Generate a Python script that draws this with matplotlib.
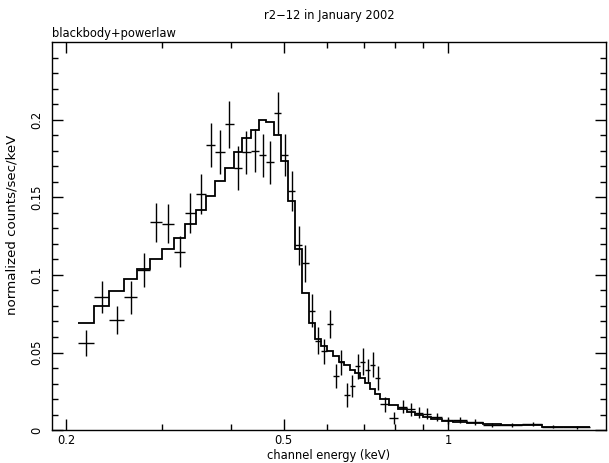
import matplotlib
matplotlib.use('Agg')
import matplotlib.pyplot as plt
from matplotlib.ticker import FixedLocator, FixedFormatter
import numpy as np

# bin edges (keV), single 15 eV channels up to 0.75 keV, grouped above
edges = [0.210, 0.225, 0.240, 0.255, 0.270, 0.285, 0.300, 0.315, 0.330, 0.345,
         0.360, 0.375, 0.390, 0.405, 0.420, 0.435, 0.450, 0.465, 0.480, 0.495,
         0.510, 0.525, 0.540, 0.555, 0.570, 0.585, 0.600, 0.615, 0.630, 0.645,
         0.660, 0.675, 0.690, 0.705, 0.720, 0.735, 0.750, 0.780, 0.810, 0.840,
         0.870, 0.900, 0.930, 0.975, 1.020, 1.080, 1.155, 1.245, 1.365, 1.485,
         1.620, 1.815]

# observed rate and 1-sigma errors (counts/sec/keV)
rate = [0.056, 0.086, 0.071, 0.0855, 0.103, 0.134, 0.133, 0.115, 0.140, 0.152,
        0.184, 0.179, 0.197, 0.169, 0.179, 0.180, 0.177, 0.1726, 0.2045, 0.177,
        0.154, 0.119, 0.1075, 0.0769, 0.0577, 0.0508, 0.0684, 0.0346, 0.0438, 0.0224,
        0.0282, 0.041, 0.0442, 0.0385, 0.0421, 0.0335, 0.0167, 0.0080, 0.0152, 0.0133,
        0.0111, 0.0107, 0.0085, 0.0064, 0.0064, 0.0053, 0.0034, 0.0032, 0.0038, 0.0021,
        0.0017]
rate_err = [0.0083, 0.0103, 0.009, 0.0104, 0.011, 0.0125, 0.0125, 0.010, 0.0128, 0.013,
            0.0142, 0.0142, 0.015, 0.014, 0.014, 0.014, 0.014, 0.014, 0.0135, 0.0135,
            0.013, 0.0123, 0.0118, 0.0107, 0.0087, 0.008, 0.0088, 0.0077, 0.008, 0.0077,
            0.007, 0.008, 0.0085, 0.0075, 0.008, 0.0075, 0.0048, 0.004, 0.0042, 0.0042,
            0.0036, 0.0033, 0.0024, 0.0022, 0.002, 0.0018, 0.0014, 0.0012, 0.0012, 0.001,
            0.0009]

# folded blackbody+powerlaw model
model = [0.0688, 0.0797, 0.0897, 0.0972, 0.1036, 0.110, 0.1165, 0.124, 0.1325, 0.1417,
         0.151, 0.1607, 0.1692, 0.1795, 0.188, 0.1934, 0.1998, 0.1987, 0.190, 0.1735,
         0.1474, 0.1165, 0.0883, 0.0688, 0.0588, 0.0545, 0.0509, 0.048, 0.0442, 0.0417,
         0.0389, 0.0367, 0.0335, 0.0303, 0.0267, 0.0235, 0.020, 0.0165, 0.0138, 0.0115,
         0.0096, 0.0082, 0.0070, 0.0060, 0.0053, 0.0047, 0.0038, 0.0035, 0.0034, 0.0022,
         0.0018]

plt.rcParams['font.family'] = ['DejaVu Sans']
plt.rcParams['font.size'] = 8.3

e = np.array(edges)
centers = 0.5 * (e[:-1] + e[1:])
half = 0.5 * (e[1:] - e[:-1])

fig = plt.figure(figsize=(6.09, 4.63), dpi=100)
left, bottom, width, height = 0.085, 0.071, 0.910, 0.838
ax = fig.add_axes([left, bottom, width, height])

ax.errorbar(centers, rate, xerr=half, yerr=rate_err, fmt='none',
            ecolor='black', elinewidth=1.0, capsize=0)
ax.stairs(model, edges, baseline=None, color='black', linewidth=1.3)

ax.set_xscale('log')
ax.set_xlim(0.1884, 1.94)
ax.set_ylim(0, 0.25)

ax.xaxis.set_major_locator(FixedLocator([0.2, 0.5, 1.0]))
ax.xaxis.set_major_formatter(FixedFormatter(['0.2', '0.5', '1']))
ax.xaxis.set_minor_locator(FixedLocator([0.3, 0.4, 0.6, 0.7, 0.8, 0.9]))
ax.xaxis.set_minor_formatter(FixedFormatter([]))

ax.yaxis.set_major_locator(FixedLocator([0, 0.05, 0.1, 0.15, 0.2]))
ax.yaxis.set_major_formatter(FixedFormatter(['0', '0.05', '0.1', '0.15', '0.2']))
ax.yaxis.set_minor_locator(FixedLocator(np.arange(0.01, 0.25, 0.01)))

ax.tick_params(which='both', direction='in', top=True, right=True, width=1.0)
ax.tick_params(which='major', length=8)
ax.tick_params(axis='x', which='major', pad=3)
ax.tick_params(axis='y', which='major', pad=6)
ax.tick_params(which='minor', length=4)
for lbl in ax.get_yticklabels():
    lbl.set_rotation(90)
    lbl.set_va('center')
for sp in ax.spines.values():
    sp.set_linewidth(1.0)

ax.set_xlabel('channel energy (keV)', labelpad=1)
ax.set_ylabel('normalized counts/sec/keV', fontsize=9.6, labelpad=4)
ax.yaxis.set_label_coords(-0.06, 0.53)

fig.text(left + width / 2, 1 - 15 / 463, 'r2\u221212 in January 2002', ha='center', va='center')
fig.text(left, 1 - 33 / 463, 'blackbody+powerlaw', ha='left', va='center')

fig.savefig('out.png', dpi=100)
